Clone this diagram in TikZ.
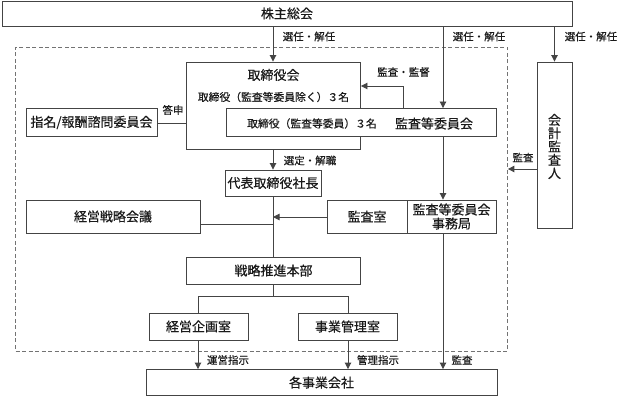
\documentclass[tikz,border=0pt]{standalone}
\usepackage{fontspec}
\setmainfont{Noto Sans CJK JP}[FakeBold=0.4]
\usetikzlibrary{arrows.meta}
\definecolor{linec}{HTML}{444444}
\definecolor{textc}{HTML}{1A1A1A}
\tikzset{
  box/.style={draw=linec, line width=0.9pt, fill=white, inner sep=0pt, text=textc, font=\fontsize{13}{13}\selectfont},
  txt/.style={inner sep=0pt, text=textc, font=\fontsize{13}{13}\selectfont},
  subtxt/.style={inner sep=0pt, text=textc, font=\fontsize{10.8}{11}\selectfont},
  lbl/.style={inner sep=0pt, text=textc, font=\fontsize{10.5}{11}\selectfont},
  conn/.style={draw=linec, line width=0.9pt},
  arr/.style={conn, -{Triangle[length=6.5pt,width=6.5pt]}},
}
\begin{document}
\begin{tikzpicture}[x=1pt,y=-1pt]
\useasboundingbox (0,0) rectangle (619,396);
% group (dashed)
\node[draw=black!55, dashed, line width=0.8pt, dash pattern=on 4pt off 2.5pt, minimum width=492pt, minimum height=304pt, inner sep=0pt] (group) at (261.5,199) {};
% nodes
\node[box, minimum width=570pt, minimum height=25pt] (kabu) at (287,13.5) {株主総会};
\node[box, minimum width=174pt, minimum height=87pt] (board) at (273.5,105.5) {};
\node[txt] (boardt) at (273.5,75) {取締役会};
\node[subtxt] (boardsub) at (273.5,97) {取締役（監査等委員除く）３名};
\node[box, minimum width=270pt, minimum height=28pt] (kansa) at (361,122.5) {};
\node[subtxt] (kansasub) at (312,123.5) {取締役（監査等委員）３名};
\node[txt] (kansat) at (434,123.5) {監査等委員会};
\node[box, minimum width=131pt, minimum height=28pt] (shimei) at (91.5,122.5) {指名/報酬諮問委員会};
\node[box, minimum width=35pt, minimum height=166pt] (kaikei) at (554.5,145) {};
\node[txt, align=center, font=\fontsize{13}{13.3}\selectfont] (kaikeit) at (554.5,146.5) {会\\計\\監\\査\\人};
\node[box, minimum width=96pt, minimum height=26pt] (daihyo) at (273,183) {代表取締役社長};
\node[box, minimum width=174pt, minimum height=33pt] (senryaku) at (113,216.5) {経営戦略会議};
\node[box, minimum width=80pt, minimum height=33pt] (shitsu) at (367,216.5) {監査室};
\node[box, minimum width=89pt, minimum height=33pt, align=center, font=\fontsize{13}{14}\selectfont] (jimu) at (451.5,216.5) {監査等委員会\\事務局};
\node[box, minimum width=174pt, minimum height=27pt] (honbu) at (273.5,270.5) {戦略推進本部};
\node[box, minimum width=99pt, minimum height=27pt] (kikaku) at (198.5,326.5) {経営企画室};
\node[box, minimum width=99pt, minimum height=27pt] (jigyo) at (347.5,326.5) {事業管理室};
\node[box, minimum width=351pt, minimum height=26pt] (kaku) at (321.5,382.5) {各事業会社};
% helper coordinates
\coordinate (colA) at (273,0);
\coordinate (colB) at (443,0);
\coordinate (colK) at (403,0);
\coordinate (rowK) at (0,86);
\coordinate (rowS) at (0,224);
\coordinate (rowM) at (0,217);
\coordinate (rowB) at (0,296);
\coordinate (rowA) at (0,169);
\coordinate (rowT) at (0,123);
\coordinate (colL) at (198,0);
\coordinate (colR) at (348,0);
% connectors
\draw[arr] (colA |- kabu.south) -- (colA |- board.north);
\draw[arr] (colB |- kabu.south) -- (colB |- kansa.north);
\draw[arr] (kaikei.north |- kabu.south) -- (kaikei.north);
\draw[arr] (colK |- kansa.north) -- (colK |- rowK) -- (board.east |- rowK);
\draw[conn] (shimei.east |- rowT) -- (board.west |- rowT);
\draw[arr] (colA |- board.south) -- (colA |- daihyo.north);
\draw[arr] (colB |- kansa.south) -- (colB |- jimu.north);
\draw[arr] (colB |- jimu.south) -- (colB |- kaku.north);
\draw[conn] (colA |- daihyo.south) -- (colA |- honbu.north);
\draw[conn] (senryaku.east |- rowS) -- (colA |- rowS);
\draw[arr] (shitsu.west |- rowM) -- (colA |- rowM);
\draw[conn] (colA |- honbu.south) -- (colA |- rowB);
\draw[conn] (colL |- kikaku.north) -- (colL |- rowB) -- (colR |- rowB) -- (colR |- jigyo.north);
\draw[arr] (colL |- kikaku.south) -- (colL |- kaku.north);
\draw[arr] (colR |- jigyo.south) -- (colR |- kaku.north);
\draw[arr] (kaikei.west |- rowA) -- (group.east |- rowA);
% labels
\node[lbl] (l1) at (309,36.5) {選任・解任};
\node[lbl] (l2) at (479,36.5) {選任・解任};
\node[lbl] (l3) at (591,36.5) {選任・解任};
\node[lbl] (l4) at (403.5,72) {監査・監督};
\node[lbl] (l5) at (173,110) {答申};
\node[lbl] (l6) at (310,160.5) {選定・解職};
\node[lbl] (l7) at (523,157.5) {監査};
\node[lbl] (l8) at (228,360) {運営指示};
\node[lbl] (l9) at (378,360) {管理指示};
\node[lbl] (l10) at (462,360) {監査};
\end{tikzpicture}
\end{document}
